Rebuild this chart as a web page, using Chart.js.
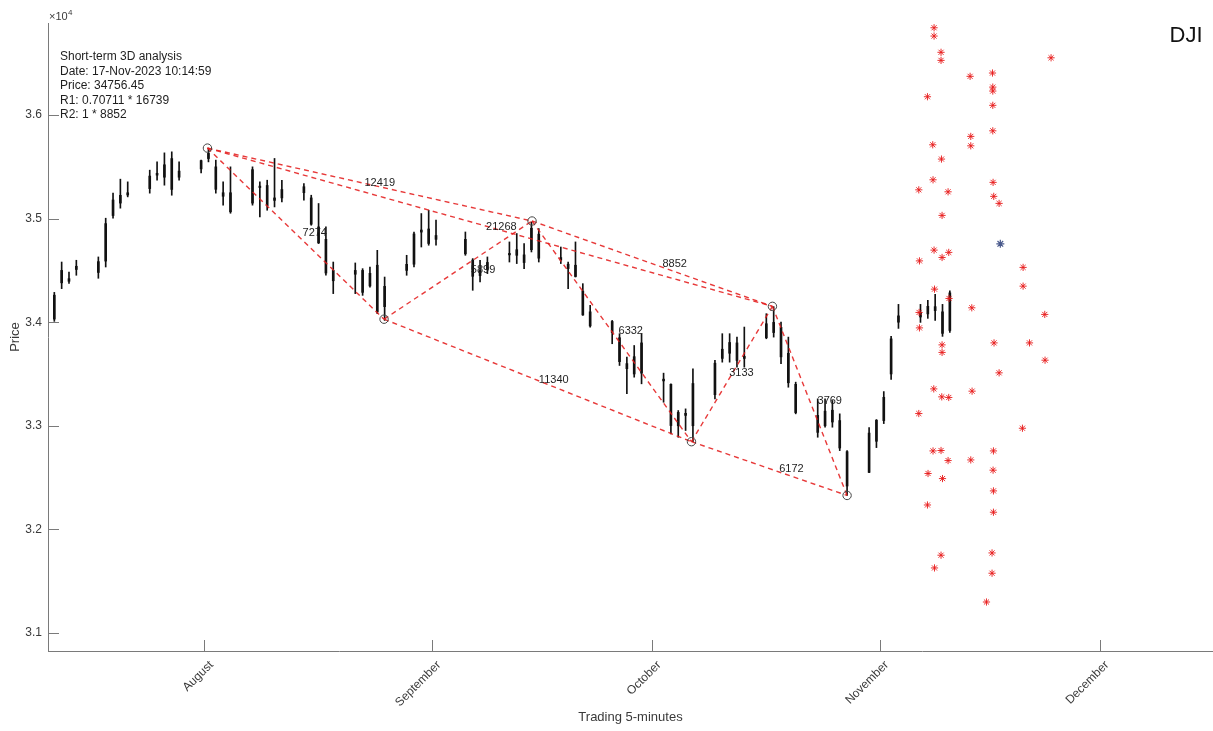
<!DOCTYPE html>
<html><head><meta charset="utf-8">
<script src="https://cdn.jsdelivr.net/npm/chart.js@4.4.0/dist/chart.umd.min.js"></script>
<style>html,body{margin:0;padding:0;background:#fff;}#wrap{width:1213px;height:731px;}</style>
</head><body><div id="wrap"><canvas id="c" width="1213" height="731"></canvas></div>
<script>
// ---------------- DATA ----------------
const ORIGIN = '2023-08-01'; // x axis: days since 1-Aug-2023
const dates = ['2023-07-11','2023-07-12','2023-07-13','2023-07-14','2023-07-17','2023-07-18','2023-07-19','2023-07-20','2023-07-21','2023-07-24','2023-07-25','2023-07-26','2023-07-27','2023-07-28','2023-07-31',
'2023-08-01','2023-08-02','2023-08-03','2023-08-04','2023-08-07','2023-08-08','2023-08-09','2023-08-10','2023-08-11','2023-08-14','2023-08-15','2023-08-16','2023-08-17','2023-08-18','2023-08-21','2023-08-22','2023-08-23','2023-08-24','2023-08-25','2023-08-28','2023-08-29','2023-08-30','2023-08-31',
'2023-09-01','2023-09-05','2023-09-06','2023-09-07','2023-09-08','2023-09-11','2023-09-12','2023-09-13','2023-09-14','2023-09-15','2023-09-18','2023-09-19','2023-09-20','2023-09-21','2023-09-22','2023-09-25','2023-09-26','2023-09-27','2023-09-28','2023-09-29',
'2023-10-02','2023-10-03','2023-10-04','2023-10-05','2023-10-06','2023-10-09','2023-10-10','2023-10-11','2023-10-12','2023-10-13','2023-10-16','2023-10-17','2023-10-18','2023-10-19','2023-10-20','2023-10-23','2023-10-24','2023-10-25','2023-10-26','2023-10-27','2023-10-30','2023-10-31',
'2023-11-01','2023-11-02','2023-11-03','2023-11-06','2023-11-07','2023-11-08','2023-11-09','2023-11-10'];
const openP = [34030,34500,34420,34540,34480,34590,35030,35150,35250,35290,35420,35400,35580,35400,35480,
35580,35500,35250,35250,35150,35300,35320,35200,35200,35250,35200,34920,34800,34400,34500,34500,34350,34550,34150,34500,34560,34870,34900,
34800,34800,34600,34450,34510,34650,34700,34650,34700,34850,34600,34560,34550,34300,34100,33900,33850,33600,33500,33800,
33450,33400,33000,33100,33000,33300,33650,33700,33800,33650,33850,33900,33950,33700,33400,33100,33000,33150,33050,32750,32550,32850,
33050,33500,34000,34050,34080,34150,34100,33920];
const highP = [34288,34581,34485,34598,34630,35004,35246,35381,35355,35468,35548,35635,35645,35548,35565,
35681,35565,35355,35500,35500,35355,35371,35581,35371,35339,35226,35146,34920,34581,34572,34517,34533,34694,34436,34646,34871,35049,35081,
34985,34871,34614,34598,34630,34775,34856,34759,34968,34904,34726,34581,34775,34372,34163,34017,33889,33663,33775,33889,
33508,33405,33147,33163,33550,33631,33889,33889,33856,33953,34082,34150,34001,33856,33421,33260,33260,33244,33115,32760,32983,33060,
33330,33863,34172,34172,34211,34269,34172,34303];
const lowP = [34008,34324,34375,34453,34424,34533,35004,35101,35210,35246,35371,35323,35226,35371,35442,
35548,35246,35130,35052,35130,35016,35081,35113,35162,35178,34936,34759,34453,34276,34276,34259,34339,34082,34017,34453,34533,34726,34743,
34743,34646,34308,34388,34469,34581,34566,34517,34678,34581,34566,34324,34436,34066,33953,33792,33582,33309,33469,33405,
33227,32922,32889,32954,32846,33260,33614,33614,33566,33566,33840,33856,33599,33372,33115,32889,32986,32986,32760,32327,32548,32789,
33021,33447,33940,33998,34037,34017,33863,33901];
const closeP = [34261,34380,34395,34509,34585,34952,35180,35225,35228,35411,35438,35520,35282,35459,35560,
35630,35283,35216,35066,35473,35314,35124,35176,35281,35308,34946,34766,34475,34500,34463,34288,34472,34099,34346,34559,34852,34890,34760,
34837,34660,34443,34500,34577,34664,34646,34576,34907,34618,34624,34518,34441,34070,33964,34007,33619,33551,33667,33508,
33433,33002,33129,33120,33408,33604,33739,33804,33631,33670,33985,33998,33665,33415,33127,32936,33141,33036,32785,32418,32929,33053,
33275,33839,34061,34096,34153,34112,33892,34283];

// pivot points (days since 1-Aug-2023, price)
const pivotDays   = [0.41, 24.47, 44.63, 66.35, 77.38, 87.55];
const pivotPrices = [35681, 34029, 34977, 32846, 34153, 32327];
const segments = [[0,1],[1,2],[2,3],[3,4],[4,5],[0,2],[0,4],[2,4],[1,3],[3,5]];
const segLabels      = ['7274','5899','6332','3133','3769','12419','21268','8852','11340','6172'];
const segLabelDays   = [15.03, 37.96, 58.08, 73.16, 85.19, 23.88, 40.46, 64.07, 47.59, 79.97];
const segLabelPrices = [34857, 34509, 33916, 33505, 33240, 35340, 34915, 34567, 33440, 32587];

// projected targets (days since 1-Aug-2023, price)
const starDays = [99.40,99.40,100.35,100.35,115.34,104.31,107.36,107.40,107.40,107.40,98.50,107.40,104.40,104.40,99.22,100.41,99.26,97.32,101.31,107.44,107.53,108.26,100.49,
99.40,101.40,100.49,97.41,111.53,111.53,99.46,101.44,104.54,97.36,114.48,97.41,100.49,100.49,107.57,112.40,114.52,108.26,99.36,100.45,101.40,104.58,97.32,111.44,
99.26,100.35,101.31,104.40,107.49,98.58,100.55,107.44,98.50,107.49,107.49,100.35,99.46,107.30,107.30,106.54];
const starPrices = [36843,36763,36606,36528,36553,36374,36406,36270,36232,36094,36177,35848,35794,35703,35713,35575,35375,35278,35259,35350,35215,35147,35031,
34696,34674,34625,34592,34529,34348,34319,34229,34139,34094,34075,33945,33781,33708,33800,33800,33633,33511,33356,33279,33273,33334,33118,32976,
32757,32761,32664,32670,32757,32539,32490,32571,32235,32371,32165,31750,31627,31772,31576,31298];
const nowDate = '2023-11-17T10:14:59';
const nowPrice = 34756.45;

const monthTickDates  = ['2023-08-01','2023-09-01','2023-10-01','2023-11-01','2023-12-01'];
const monthTickLabels = ['August','September','October','November','December'];
const priceTicks = [31000,32000,33000,34000,35000,36000];
const infoLines = ['Short-term 3D analysis','Date: 17-Nov-2023 10:14:59','Price: 34756.45','R1: 0.70711 * 16739','R2: 1 * 8852'];
const symbolName = 'DJI';
const X_MIN = -21.31, X_MAX = 137.4, Y_MIN = 30825, Y_MAX = 36889;

// ---------------- BUILD ----------------
const t0 = Date.parse(ORIGIN + 'T00:00:00Z');
const dayOf = s => (Date.parse(s.length > 10 ? s + 'Z' : s + 'T00:00:00Z') - t0) / 86400000;
const SESSION_MID = 0.55;
const candleX = dates.map(d => dayOf(d) + SESSION_MID);
const wickData = candleX.map((x, i) => ({x, y: [lowP[i], highP[i]]}));
const bodyData = candleX.map((x, i) => ({x, y: [openP[i], closeP[i]]}));
const tickDays = monthTickDates.map(dayOf);

const RED = 'rgba(228,30,30,0.88)';
const segDatasets = segments.map(([a, b]) => ({
  type: 'line',
  data: [{x: pivotDays[a], y: pivotPrices[a]}, {x: pivotDays[b], y: pivotPrices[b]}],
  borderColor: RED, borderWidth: 1.4, borderDash: [5, 4], pointRadius: 0, fill: false, tension: 0
}));

const FONT = '"Liberation Sans", Arial, Helvetica, sans-serif';
const TXT = '#3a3a3a';

const decorPlugin = {
  id: 'decor',
  afterDraw(chart) {
    const {ctx, chartArea: ca, scales: {x, y}} = chart;
    ctx.save();
    // inward tick marks
    ctx.strokeStyle = '#7a7a7a'; ctx.lineWidth = 1;
    x.ticks.forEach(t => {
      const px = Math.round(x.getPixelForValue(t.value)) + 0.5;
      ctx.beginPath(); ctx.moveTo(px, ca.bottom); ctx.lineTo(px, ca.bottom - 11); ctx.stroke();
    });
    y.ticks.forEach(t => {
      const py = Math.round(y.getPixelForValue(t.value)) + 0.5;
      ctx.beginPath(); ctx.moveTo(ca.left, py); ctx.lineTo(ca.left + 11, py); ctx.stroke();
    });
    // exponent label
    ctx.fillStyle = TXT; ctx.textBaseline = 'middle'; ctx.textAlign = 'left';
    ctx.font = '11px ' + FONT;
    ctx.fillText('\u00d710', 49, 17);
    ctx.font = '8px ' + FONT;
    ctx.fillText('4', 68, 13);
    // segment labels
    ctx.font = '11px ' + FONT; ctx.fillStyle = '#1e1e1e'; ctx.textAlign = 'center';
    segLabels.forEach((s, i) => {
      ctx.fillText(s, x.getPixelForValue(segLabelDays[i]), y.getPixelForValue(segLabelPrices[i]));
    });
    // info block
    ctx.font = '12px ' + FONT; ctx.fillStyle = '#1e1e1e'; ctx.textAlign = 'left';
    infoLines.forEach((s, i) => ctx.fillText(s, 60, 57 + i * 14.5));
    // symbol
    ctx.font = '22px ' + FONT; ctx.fillStyle = '#111'; ctx.textAlign = 'center';
    ctx.fillText(symbolName, 1186, 36);
    ctx.restore();
  }
};

new Chart(document.getElementById('c'), {
  type: 'scatter',
  data: {
    datasets: [
      {type: 'scatter', data: [{x: dayOf(nowDate), y: nowPrice}], pointStyle: 'star', radius: 4, borderColor: '#4a5a8c', borderWidth: 1.2, backgroundColor: '#4a5a8c'},
      {type: 'scatter', data: starDays.map((x, i) => ({x, y: starPrices[i]})), pointStyle: 'star', radius: 3.6, borderColor: 'rgba(232,25,25,0.9)', borderWidth: 1, backgroundColor: 'rgba(232,25,25,0.9)'},
      {type: 'scatter', data: pivotDays.map((x, i) => ({x, y: pivotPrices[i]})), pointStyle: 'circle', radius: 4.2, borderColor: '#444', borderWidth: 1, backgroundColor: 'rgba(0,0,0,0)'},
      ...segDatasets,
      {type: 'bar', data: bodyData, backgroundColor: '#111', barThickness: 2, grouped: false, borderWidth: 0},
      {type: 'bar', data: wickData, backgroundColor: '#111', barThickness: 1, grouped: false, borderWidth: 0}
    ]
  },
  options: {
    responsive: false, animation: false, devicePixelRatio: 1,
    layout: {autoPadding: false, padding: {left: 0, right: 0, top: 23, bottom: 0}},
    plugins: {legend: {display: false}, tooltip: {enabled: false}},
    scales: {
      x: {
        type: 'linear', min: X_MIN, max: X_MAX, offset: false,
        afterBuildTicks: s => { s.ticks = tickDays.map(v => ({value: v})); },
        afterFit: s => { s.height = 80; s.paddingLeft = 0; s.paddingRight = 0; },
        ticks: {autoSkip: false, minRotation: 45, maxRotation: 45, padding: 7, labelOffset: 7, color: TXT, font: {family: FONT, size: 12},
          callback: (v) => { const i = tickDays.findIndex(d => Math.abs(d - v) < 1e-6); return i >= 0 ? monthTickLabels[i] : ''; }},
        grid: {display: false, drawTicks: false},
        border: {display: true, color: '#7a7a7a', width: 1},
        title: {display: true, text: 'Trading 5-minutes', color: TXT, font: {family: FONT, size: 13}, padding: {top: 0, bottom: 6}}
      },
      y: {
        type: 'linear', min: Y_MIN, max: Y_MAX,
        afterBuildTicks: s => { s.ticks = priceTicks.map(v => ({value: v})); },
        afterFit: s => { s.width = 48; },
        ticks: {padding: 6, color: TXT, font: {family: FONT, size: 12}, callback: v => (v / 10000).toFixed(1)},
        grid: {display: false, drawTicks: false},
        border: {display: true, color: '#7a7a7a', width: 1},
        title: {display: true, text: 'Price', color: TXT, font: {family: FONT, size: 13}, padding: {top: 8, bottom: 0}}
      }
    }
  },
  plugins: [decorPlugin]
});
</script></body></html>
